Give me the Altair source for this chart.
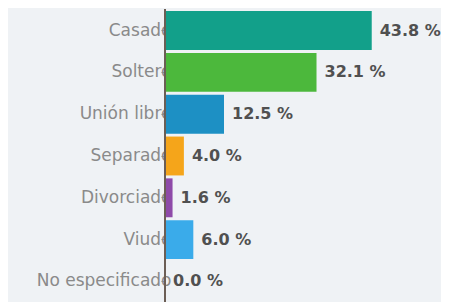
import altair as alt
import pandas as pd

categories = ["Casado", "Soltero", "Unión libre", "Separado", "Divorciado", "Viudo", "No especificado"]
values = [43.8, 32.1, 12.5, 4.0, 1.6, 6.0, 0.0]
colors = ["#12a08a", "#4cb83c", "#1d90c4", "#f5a51a", "#8e4aa8", "#3aabea", "#8d6e63"]
labels = [f"{v:.1f} %" for v in values]

df = pd.DataFrame({"cat": categories, "val": values, "color": colors, "label": labels})

y_enc = alt.Y(
    "cat:N", sort=None,
    scale=alt.Scale(paddingInner=0.07, paddingOuter=0.05),
    axis=alt.Axis(title=None, labelFontSize=17, labelColor="#8a8a8a", labelPadding=-10,
                  tickSize=4, tickColor="#888888", domain=False, minExtent=157, maxExtent=157,
                  labelFont="DejaVu Sans"),
)
x_enc = alt.X("val:Q", scale=alt.Scale(domain=[0, 50]), axis=None)

bars = alt.Chart(df).mark_bar().encode(x=x_enc, y=y_enc, color=alt.Color("color:N", scale=None))
text = alt.Chart(df).mark_text(align="left", dx=8, fontSize=16, fontWeight="bold",
                               color="#505050", font="DejaVu Sans").encode(
    x=x_enc, y=alt.Y("cat:N", sort=None), text="label:N")
rule = alt.Chart(pd.DataFrame({"z": [0]})).mark_rule(color="#6b5e55", strokeWidth=2).encode(
    x=alt.X("z:Q"))

chart = alt.layer(bars, text, rule).properties(
    width=236, height=294, padding={"left": 0, "top": 0, "bottom": 0, "right": 0},
    background="#eff2f5"
).configure_view(stroke=None)

chart.save("out.html", embed_options={"renderer": "svg", "actions": False})
